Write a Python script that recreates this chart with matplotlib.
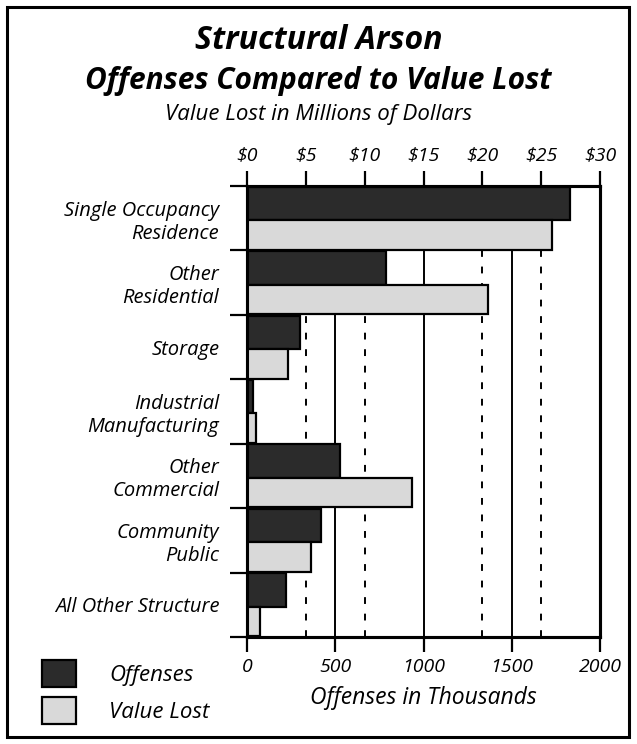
import numpy as np
import matplotlib
matplotlib.use('Agg')
import matplotlib.pyplot as plt
from matplotlib.patches import Rectangle

plt.rcParams['font.family'] = ['Open Sans', 'DejaVu Sans']
plt.rcParams['font.style'] = 'italic'

# data
categories = ['Single Occupancy\nResidence', 'Other\nResidential', 'Storage',
              'Industrial\nManufacturing', 'Other\nCommercial', 'Community\nPublic',
              'All Other Structure']
offenses = [1830, 790, 300, 32, 527, 419, 221]          # thousands
value_lost = [25.9, 20.5, 3.5, 0.74, 14.0, 5.4, 1.1]   # millions of dollars

off_ticks = [0, 500, 1000, 1500, 2000]
val_ticks = [0, 5, 10, 15, 20, 25, 30]
val_labels = ['$%d' % v for v in val_ticks]

fig = plt.figure(figsize=(6.37, 7.44), dpi=100)
ax = fig.add_axes([247/637, 1-637/744, 353/637, 451/744])
ax2 = ax.twiny()

ax.set_xlim(0, 2000)
ax2.set_xlim(0, 30)
ax.set_ylim(7, 0)

# gridlines (under the bars)
for t in off_ticks[1:-1]:
    ax.axvline(t, color='black', lw=1.4, zorder=0)
scale = 2000 / 30
for v in [5, 10, 20, 25]:
    ax.axvline(v * scale, color='black', lw=1.4, ls=(0, (3.5, 5)), zorder=0)

y = np.arange(len(categories))
ax.barh(y + 0.27, offenses, height=0.52, color='#2b2b2b', edgecolor='black',
        linewidth=1.6, zorder=2, label='Offenses')
ax2.barh(y + 0.76, value_lost, height=0.46, color='#d9d9d9', edgecolor='black',
         linewidth=1.6, zorder=2, label='Value Lost')

for a in (ax, ax2):
    for s in a.spines.values():
        s.set_linewidth(2.2)

ax.set_xticks(off_ticks)
ax.set_xticklabels([str(t) for t in off_ticks], fontsize=14)
ax.tick_params(axis='x', length=11, width=1.6, pad=4)
ax2.set_xticks(val_ticks)
ax2.set_xticklabels(val_labels, fontsize=14)
ax2.tick_params(axis='x', length=11, width=1.6, pad=5)

ax.set_yticks(np.arange(8))
ax.set_yticklabels([''] * 8)
ax.set_yticks(y + 0.5, minor=True)
ax.set_yticklabels(categories, minor=True, fontsize=14.5, ha='right', ma='right',
                   linespacing=1.2)
ax.tick_params(axis='y', which='major', length=12, width=1.6)
ax.tick_params(axis='y', which='minor', length=0, pad=20)

ax.set_xlabel('Offenses in Thousands', fontsize=16.5, labelpad=7)

fig.text(0.5, 0.945, 'Structural Arson', ha='center', va='center',
         fontsize=23, fontweight='bold')
fig.text(0.5, 0.891, 'Offenses Compared to Value Lost', ha='center', va='center',
         fontsize=21.5, fontweight='bold')
fig.text(0.5, 0.846, 'Value Lost in Millions of Dollars', ha='center', va='center',
         fontsize=16)

h1, l1 = ax.get_legend_handles_labels()
h2, l2 = ax2.get_legend_handles_labels()
fig.legend(h1 + h2, l1 + l2, loc='lower left', bbox_to_anchor=(0.035, 0.0),
           frameon=False, fontsize=16, handlelength=1.5, handleheight=1.5,
           handletextpad=1.5, labelspacing=0.45)

fig.patches.append(Rectangle((7/637, 7/744), 622/637, 730/744, transform=fig.transFigure,
                             fill=False, edgecolor='black', linewidth=2.2))

fig.savefig('out.png', dpi=100)
